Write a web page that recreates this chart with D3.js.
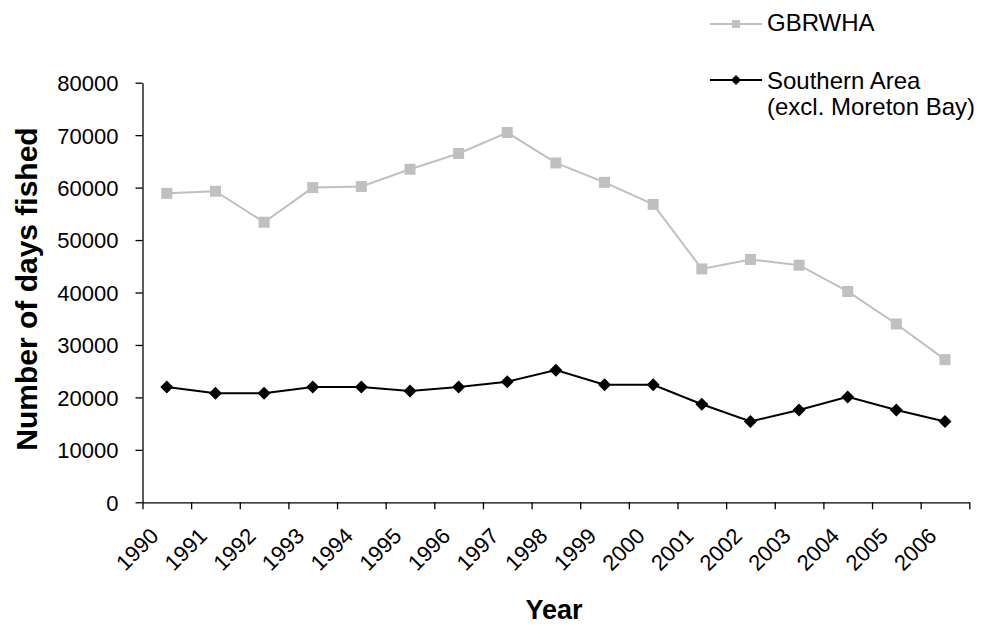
<!DOCTYPE html>
<html>
<head>
<meta charset="utf-8">
<style>
  body { margin: 0; background: #fff; }
  svg text { font-family: "Liberation Sans", Arial, sans-serif; fill: #000; }
</style>
</head>
<body>
<svg id="chart" width="987" height="628"></svg>

<script src="https://d3js.org/d3.v7.min.js"></script>
<script>

var years = ["1990","1991","1992","1993","1994","1995","1996","1997","1998",
             "1999","2000","2001","2002","2003","2004","2005","2006"]
var gbrwha = [58900, 59300, 53400, 60000, 60200, 63500, 66500, 70500, 64700,
              61000, 56800, 44500, 46300, 45200, 40200, 34000, 27200]
var southern = [22000, 20800, 20800, 22000, 22000, 21200, 22000, 23000, 25200,
                22400, 22400, 18700, 15400, 17600, 20100, 17600, 15400]
var yTicks = [0, 10000, 20000, 30000, 40000, 50000, 60000, 70000, 80000]
var seriesNames = ["GBRWHA", "Southern Area", "(excl. Moreton Bay)"]

var plotL = 142.5, plotR = 969.3, plotT = 82.7, plotB = 502.3

var svg = d3.select("#chart")

var x = d3.scaleBand().domain(years).range([plotL, plotR]).padding(0)
var xEdge = d3.scaleLinear().domain([0, years.length]).range([plotL, plotR])
var y = d3.scaleLinear().domain([0, 80000]).range([plotB, plotT])

// y axis
var yAxis = svg.append("g")
  .attr("transform", "translate(" + plotL + ",0)")
  .call(d3.axisLeft(y).tickValues(yTicks).tickFormat(d3.format("d")).tickSize(7).tickSizeOuter(0).tickPadding(17))
yAxis.selectAll("text").style("font-size", "22px").attr("dy", "0.36em")
yAxis.selectAll("line, path").attr("stroke", "#000").attr("stroke-width", 1.3)

// x axis (ticks between categories)
var xAxis = svg.append("g")
  .attr("transform", "translate(0," + plotB + ")")
  .call(d3.axisBottom(xEdge).tickValues(d3.range(years.length + 1)).tickFormat("").tickSize(7).tickSizeOuter(0))
xAxis.selectAll("line, path").attr("stroke", "#000").attr("stroke-width", 1.3)

svg.append("g").selectAll("text")
  .data(years)
  .enter().append("text")
  .attr("text-anchor", "end")
  .style("font-size", "22px")
  .attr("transform", function(d){
    return "translate(" + (x(d) + x.bandwidth()/2 - 7) + "," + (plotB + 35) + ") rotate(-45)"
  })
  .text(function(d){ return d })

// axis titles
svg.append("text")
  .attr("x", 554).attr("y", 619)
  .attr("text-anchor", "middle")
  .style("font-size", "27px").style("font-weight", "bold")
  .text("Year")

svg.append("text")
  .attr("transform", "translate(37,289) rotate(-90)")
  .attr("text-anchor", "middle")
  .style("font-size", "30px").style("font-weight", "bold")
  .text("Number of days fished")

var line = d3.line()
  .x(function(d, i){ return x(years[i]) + x.bandwidth()/2 })
  .y(function(d){ return y(d) })

var diamond = function(s){ return "M0," + (-s) + "L" + s + ",0L0," + s + "L" + (-s) + ",0Z" }

// GBRWHA
svg.append("path").datum(gbrwha)
  .attr("d", line).attr("fill", "none")
  .attr("stroke", "#c0c0c0").attr("stroke-width", 2)
svg.append("g").selectAll("rect")
  .data(gbrwha)
  .enter().append("rect")
  .attr("x", function(d, i){ return x(years[i]) + x.bandwidth()/2 - 5.5 })
  .attr("y", function(d){ return y(d) - 5.5 })
  .attr("width", 11).attr("height", 11)
  .attr("fill", "#c0c0c0")

// Southern area
svg.append("path").datum(southern)
  .attr("d", line).attr("fill", "none")
  .attr("stroke", "#000").attr("stroke-width", 2)
svg.append("g").selectAll("path")
  .data(southern)
  .enter().append("path")
  .attr("d", diamond(6.5))
  .attr("transform", function(d, i){
    return "translate(" + (x(years[i]) + x.bandwidth()/2) + "," + y(d) + ")"
  })
  .attr("fill", "#000")

// legend
var lg = svg.append("g")
lg.append("line").attr("x1", 710).attr("x2", 762).attr("y1", 24).attr("y2", 24)
  .attr("stroke", "#c0c0c0").attr("stroke-width", 2)
lg.append("rect").attr("x", 732).attr("y", 20).attr("width", 8).attr("height", 8).attr("fill", "#c0c0c0")
lg.append("text").attr("x", 767).attr("y", 31).style("font-size", "24px").text(seriesNames[0])

lg.append("line").attr("x1", 710).attr("x2", 762).attr("y1", 80).attr("y2", 80)
  .attr("stroke", "#000").attr("stroke-width", 2)
lg.append("path").attr("d", diamond(5)).attr("transform", "translate(736,80)").attr("fill", "#000")
lg.append("text").attr("x", 767).attr("y", 89).style("font-size", "24px").text(seriesNames[1])
lg.append("text").attr("x", 767).attr("y", 115).style("font-size", "24px").text(seriesNames[2])

</script>
</body>
</html>
